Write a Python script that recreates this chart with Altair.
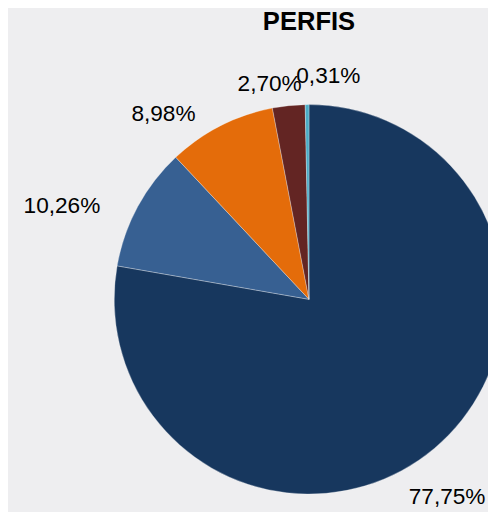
import altair as alt
import pandas as pd

categories = ["A", "B", "C", "D", "E"]
values = [77.75, 10.26, 8.98, 2.70, 0.31]
labels = ["77,75%", "10,26%", "8,98%", "2,70%", "0,31%"]
colors = ["#17375E", "#376092", "#E46C0A", "#632523", "#4BACC6"]

df = pd.DataFrame({"cat": categories, "val": values, "label": labels,
                   "ord": list(range(len(values)))})

# label nudges (style offsets relative to the mid-angle anchor)
nudges = {"A": (-14, 17), "B": (-40, 19), "C": (-39, 26), "D": (-15, 20), "E": (22, 13)}

cx, cy, R = 306, 256, 198

base = alt.Chart(df).encode(
    theta=alt.Theta("val:Q", stack=True),
    order=alt.Order("ord:Q"),
)

arcs = base.mark_arc(stroke="#FFFFFF", strokeWidth=0.3).encode(
    color=alt.Color("cat:N", scale=alt.Scale(domain=categories, range=colors), legend=None),
    x=alt.value(cx), y=alt.value(cy),
    radius=alt.value(R),
)

layers = [arcs]
for c in categories:
    dx, dy = nudges[c]
    layers.append(
        base.mark_text(font="Liberation Sans", fontSize=23, color="#000000",
                       align="center", baseline="middle", dx=dx, dy=dy)
        .encode(text="label:N", x=alt.value(cx), y=alt.value(cy), radius=alt.value(240),
                opacity=alt.condition(alt.datum.cat == c, alt.value(1), alt.value(0)))
    )

chart = alt.layer(*layers).properties(
    width=488, height=468,
    title=alt.Title("PERFIS", font="Liberation Sans", fontSize=26, fontWeight="bold",
                    color="#000000", anchor="middle", dx=62, offset=13),
    background="#EEEEF0",
    padding={"left": 0, "top": 36, "right": 0, "bottom": 0},
    autosize=alt.AutoSizeParams(type="none"),
).configure_view(stroke=None)

chart.save("out.html", embed_options={"renderer": "svg", "actions": False})
